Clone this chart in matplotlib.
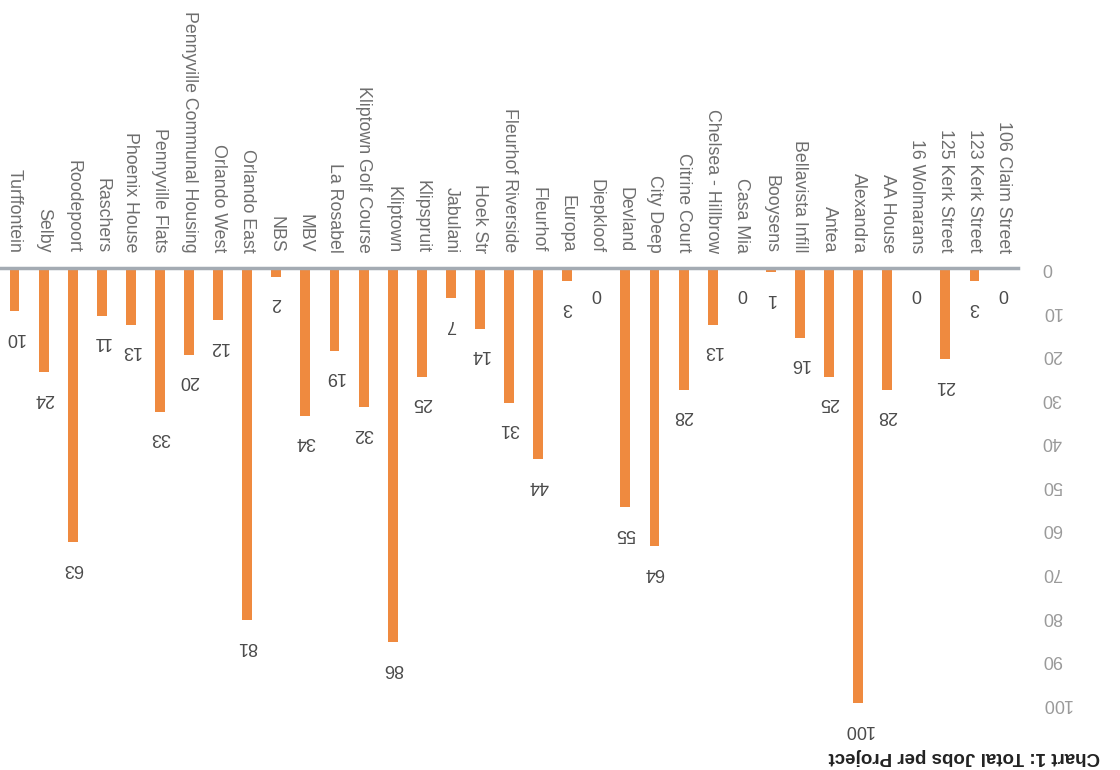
import matplotlib
matplotlib.use("Agg")
import matplotlib.pyplot as plt

# data, in the order of the original chart (the scan is upside down)
projects = ["106 Claim Street", "123 Kerk Street", "125 Kerk Street", "16 Wolmarans",
            "AA House", "Alexandra", "Antea", "Bellavista Infill", "Booysens", "Casa Mia",
            "Chelsea - Hillbrow", "Citrine Court", "City Deep", "Devland", "Diepkloof",
            "Europa", "Fleurhof", "Fleurhof Riverside", "Hoek Str", "Jabulani",
            "Klipspruit", "Kliptown", "Kliptown Golf Course", "La Rosabel", "MBV", "NBS",
            "Orlando East", "Orlando West", "Pennyville Communal Housing", "Pennyville Flats",
            "Phoenix House", "Raschers", "Roodepoort", "Selby", "Turffontein"]
jobs = [0, 3, 21, 0, 28, 100, 25, 16, 1, 0,
        13, 28, 64, 55, 0, 3, 44, 31, 14, 7,
        25, 86, 32, 19, 34, 2, 81, 12, 20, 33,
        13, 11, 63, 24, 10]
yticks = [0, 10, 20, 30, 40, 50, 60, 70, 80, 90, 100]

plt.rcParams['font.family'] = ['Liberation Sans', 'DejaVu Sans']

fig = plt.figure(figsize=(11.2, 7.7), dpi=100)
ax = fig.add_axes([0.0, 0.087, 0.909, 0.565])

x = list(range(len(projects)))
ax.bar(x, jobs, width=0.34, color='#ef8a3f', zorder=2)

# whole chart is shown rotated by 180 degrees
ax.set_xlim(len(projects) - 0.5, -0.5)
ax.set_ylim(100, 0)

for xi, v in zip(x, jobs):
    ax.annotate(str(v), (xi, v), xytext=(0, -26), textcoords='offset pixels',
                ha='center', va='center', rotation=180, fontsize=13, color='#4a4a4a')

ax.xaxis.tick_top()
ax.set_xticks(x)
ax.set_xticklabels(projects, rotation=270, fontsize=12.8, color='#6e6e6e')
ax.tick_params(axis='x', length=0, pad=11)

ax.yaxis.tick_right()
ax.set_yticks(yticks)
ax.set_yticklabels([str(t) for t in yticks], rotation=180, fontsize=13, color='#9a9a9a')
ax.tick_params(axis='y', length=0, pad=17)
for lab in ax.get_yticklabels():
    lab.set_va('center')

for s in ['bottom', 'left', 'right']:
    ax.spines[s].set_visible(False)
ax.spines['top'].set_color('#a4abb3')
ax.spines['top'].set_linewidth(2.5)

fig.text(0.861, 1 - 757 / 770, "Chart 1: Total Jobs per Project", rotation=180,
         ha='center', va='center', fontsize=13.5, fontweight='bold', color='#222222')

fig.savefig("out.png", dpi=100)
